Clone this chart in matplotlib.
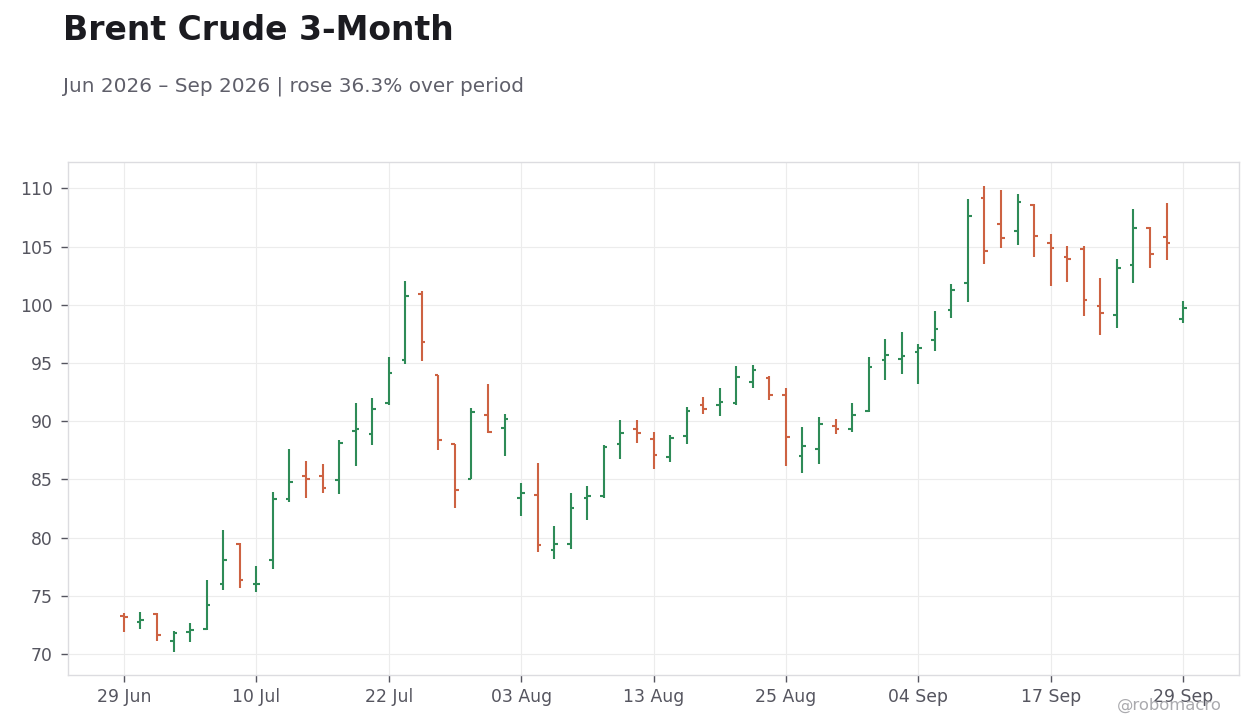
import matplotlib
matplotlib.use("Agg")
import matplotlib.pyplot as plt
import pandas as pd

plt.rcParams["font.family"] = ["DejaVu Sans"]

# ---- data ----
dates = pd.bdate_range("2026-06-29", "2026-09-29", freq="C",
                       holidays=["2026-07-03", "2026-09-07"])
opens = [73.30, 72.78, 73.46, 71.12, 71.89, 72.15, 76.01, 79.48, 75.98, 78.10,
         83.34, 85.32, 85.32, 84.98, 89.18, 88.93, 91.59, 95.28, 100.95, 93.99,
         88.04, 85.06, 90.56, 89.44, 83.43, 83.69, 78.96, 79.48, 83.43, 83.60,
         88.04, 89.36, 88.50, 86.95, 88.75, 91.42, 91.42, 91.59, 93.39, 93.74,
         92.28, 87.01, 87.64, 89.61, 89.36, 90.90, 95.28, 95.37, 95.97, 97.00,
         99.58, 101.90, 109.20, 106.97, 106.37, 108.60, 105.34, 104.13, 104.83, 99.92,
         99.15, 103.45, 106.62, 105.85, 98.80]
highs = [73.50, 73.58, 73.50, 71.95, 72.66, 76.36, 80.65, 79.51, 77.56, 83.92,
         87.61, 86.58, 86.32, 88.38, 91.58, 91.99, 95.52, 102.04, 101.19, 94.00,
         88.06, 91.11, 93.20, 90.62, 84.69, 86.41, 81.00, 83.83, 84.43, 87.96,
         90.10, 90.10, 89.07, 88.81, 91.22, 92.08, 92.85, 94.74, 94.82, 93.88,
         92.85, 89.50, 90.36, 90.19, 91.56, 95.52, 97.06, 97.66, 96.63, 99.47,
         101.79, 109.09, 110.21, 109.86, 109.52, 108.66, 106.08, 105.05, 105.05, 102.30,
         103.93, 108.23, 106.71, 108.78, 100.33]
lows = [71.90, 72.18, 71.14, 70.17, 71.03, 72.06, 75.50, 75.70, 75.35, 77.33,
        83.08, 83.43, 83.86, 83.77, 86.18, 87.98, 91.42, 94.94, 95.20, 87.55,
        82.57, 85.03, 88.96, 87.03, 81.88, 78.79, 78.19, 79.05, 81.54, 83.43,
        86.78, 88.15, 85.92, 86.52, 88.07, 90.64, 90.47, 91.42, 92.88, 91.85,
        86.18, 85.58, 86.35, 88.93, 89.10, 90.82, 93.54, 94.08, 93.22, 96.06,
        98.89, 100.27, 103.53, 104.91, 105.16, 104.13, 101.64, 101.98, 99.06, 97.43,
        98.03, 101.90, 103.19, 103.87, 98.46]
closes = [73.15, 72.92, 71.66, 71.83, 72.06, 74.21, 78.08, 76.38, 76.03, 83.34,
          84.80, 85.06, 84.26, 88.15, 89.35, 91.07, 94.17, 100.78, 96.83, 88.38,
          84.09, 90.82, 89.10, 90.21, 83.86, 79.39, 79.48, 82.57, 83.60, 87.78,
          89.01, 89.01, 87.12, 88.58, 90.90, 91.07, 91.68, 93.82, 94.42, 92.28,
          88.67, 87.90, 89.78, 89.36, 90.56, 94.68, 95.71, 95.63, 96.31, 97.95,
          101.30, 107.66, 104.65, 105.77, 108.86, 105.94, 104.91, 103.96, 100.44, 99.32,
          103.19, 106.62, 104.39, 105.34, 99.75]
y_ticks = [70, 75, 80, 85, 90, 95, 100, 105, 110]
title = "Brent Crude 3-Month"
subtitle = "Jun 2026 \u2013 Sep 2026 | rose 36.3% over period"
credit = "@robomacro"

UP = "#2e8b57"
DOWN = "#cd6242"

fig = plt.figure(figsize=(12.6, 7.28), dpi=100)
ax = fig.add_axes([68 / 1260, 1 - 675 / 728, (1239 - 68) / 1260, (675 - 162) / 728])

x = list(range(len(dates)))
cols = [UP if c >= o else DOWN for o, c in zip(opens, closes)]
lw = 1.5
ax.vlines(x, lows, highs, colors=cols, linewidth=lw, zorder=3)
ax.hlines(opens, [i - 0.22 for i in x], x, colors=cols, linewidth=lw, zorder=3)
ax.hlines(closes, x, [i + 0.22 for i in x], colors=cols, linewidth=lw, zorder=3)

ax.set_xlim(-3.38, len(dates) - 1 + 3.38)
ax.set_ylim(68.2, 112.27)
xt = x[::8]
ax.set_xticks(xt)
ax.set_xticklabels([dates[i].strftime("%d %b") for i in xt])
ax.set_yticks(y_ticks)

ax.grid(True, color="#ececec", linewidth=0.8, zorder=0)
ax.set_axisbelow(True)
for s in ax.spines.values():
    s.set_color("#dcdce0")
    s.set_linewidth(1.0)
ax.tick_params(axis="both", colors="#55555f", labelcolor="#55555f",
               labelsize=12.4, length=5, width=1)
ax.tick_params(axis="y", pad=6)
ax.tick_params(axis="x", pad=4.5)

fig.text(63 / 1260, 1 - 14.5 / 728, title, fontsize=23.8, fontweight="bold",
         color="#1b1b20", va="top", ha="left")
fig.text(63 / 1260, 1 - 76 / 728, subtitle, fontsize=14.4, color="#5f5f6a",
         va="top", ha="left")
fig.text(1222 / 1260, 1 - 705 / 728, credit, fontsize=11.8, color="#aaaaae",
         va="center", ha="right")

fig.savefig("out.png", dpi=100)
